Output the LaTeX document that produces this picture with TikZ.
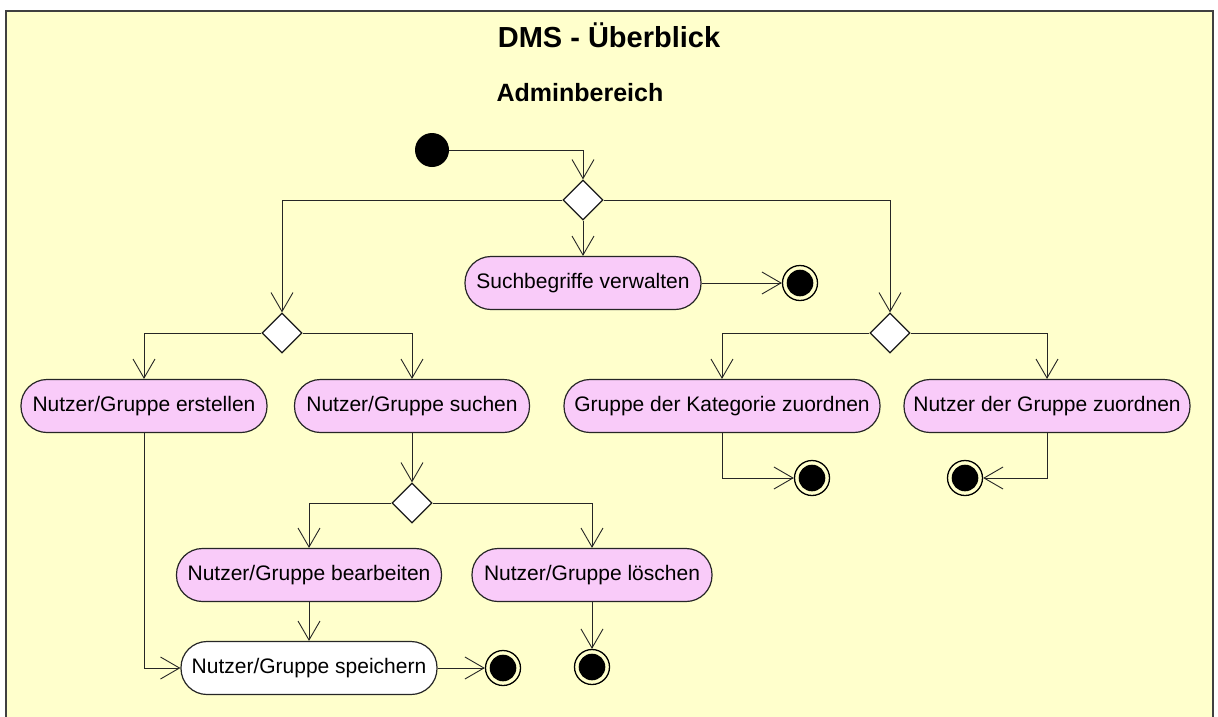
\documentclass[tikz,border=0pt]{standalone}
\usepackage{fontspec}
\setmainfont{Liberation Sans}
\usetikzlibrary{arrows.meta,shapes.geometric}
\definecolor{panelbg}{HTML}{FFFFCC}
\definecolor{actpink}{HTML}{F9CBF9}
\definecolor{framegray}{HTML}{404040}
\begin{document}
\begin{tikzpicture}[x=1pt,y=-1pt,
  flow/.style={draw=black!85, line width=0.9pt, -{Straight Barb[length=19pt,width=22pt,line width=0.9pt]}},
  action/.style={draw=black!85, line width=1.2pt, fill=actpink, rounded corners=26pt,
    minimum height=53pt, inner sep=0pt, font=\fontsize{21}{25}\selectfont},
  plainaction/.style={action, fill=white},
  decision/.style={diamond, draw=black!90, line width=1.2pt, fill=white, aspect=1,
    minimum width=40pt, minimum height=40pt, inner sep=0pt},
  startnode/.style={circle, fill=black, minimum size=34pt, inner sep=0pt},
  endnode/.style={circle, draw=black, line width=1.3pt, fill=panelbg, minimum size=35pt, inner sep=0pt,
    path picture={\fill[black] (path picture bounding box.center) circle (13.3pt);}}
]
\useasboundingbox (0,0) rectangle (1218,716);
\fill[white] (0,0) rectangle (1218,716);
% panel
\draw[framegray, line width=2pt, fill=panelbg] (6,11) rectangle (1213,730);

% headings
\node[anchor=base, font=\bfseries\fontsize{29}{34}\selectfont] (title) at (609,47) {DMS - Überblick};
\node[anchor=base, font=\bfseries\fontsize{25}{30}\selectfont] (sub) at (580,101) {Adminbereich};

% nodes
\node[startnode] (start) at (432,150) {};
\node[decision] (d1) at (583,200) {};
\node[action, minimum width=236pt] (such) at (583,283) {Suchbegriffe verwalten};
\node[endnode] (e1) at (800,283) {};

\node[decision] (d2) at (282,333) {};
\node[action, minimum width=246pt] (erst) at (144,406) {Nutzer/Gruppe erstellen};
\node[action, minimum width=235pt] (sucn) at (412,406) {Nutzer/Gruppe suchen};

\node[decision] (d3) at (890,333) {};
\node[action, minimum width=316pt] (kat) at (722,406) {Gruppe der Kategorie zuordnen};
\node[action, minimum width=286pt] (nzg) at (1047,406) {Nutzer der Gruppe zuordnen};
\node[endnode] (e2) at (812,478) {};
\node[endnode] (e3) at (965,478) {};

\node[decision] (d4) at (412,503) {};
\node[action, minimum width=265pt] (bearb) at (309,575) {Nutzer/Gruppe bearbeiten};
\node[action, minimum width=240pt] (losch) at (592,575) {Nutzer/Gruppe löschen};
\node[plainaction, minimum width=256pt] (speich) at (309,668) {Nutzer/Gruppe speichern};
\node[endnode] (e4) at (503,668) {};
\node[endnode] (e5) at (592,667) {};

% connectors
\draw[flow] (start.east) -| (d1.north);
\draw[flow] (d1.south) -- (such.north);
\draw[flow] (such.east) -- (e1.west);
\draw[flow] (d1.west) -| (d2.north);
\draw[flow] (d1.east) -| (d3.north);
\draw[flow] (d2.west) -| (erst.north);
\draw[flow] (d2.east) -| (sucn.north);
\draw[flow] (d3.west) -| (kat.north);
\draw[flow] (d3.east) -| (nzg.north);
\draw[flow] (kat.south) |- (e2.west);
\draw[flow] (nzg.south) |- (e3.east);
\draw[flow] (sucn.south) -- (d4.north);
\draw[flow] (d4.west) -| (bearb.north);
\draw[flow] (d4.east) -| (losch.north);
\draw[flow] (bearb.south) -- (speich.north);
\draw[flow] (erst.south) |- (speich.west);
\draw[flow] (speich.east) -- (e4.west);
\draw[flow] (losch.south) -- (e5.north);
\end{tikzpicture}
\end{document}
